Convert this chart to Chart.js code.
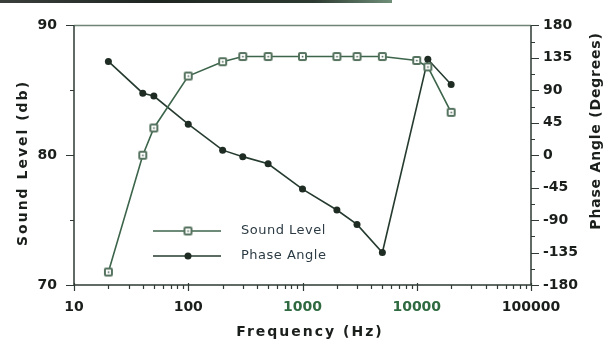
<!DOCTYPE html>
<html>
<head>
<meta charset="utf-8">
<script src="https://cdn.jsdelivr.net/npm/chart.js@4/dist/chart.umd.min.js"></script>
<style>
  html, body { margin: 0; padding: 0; background: #ffffff; }
  #wrap { position: relative; width: 604px; height: 343px; overflow: hidden; }
  #topband { position: absolute; left: 0; top: 0; width: 392px; height: 3px;
             background: linear-gradient(90deg, #3a3f3c 0%, #1f2622 40%, #2c3a31 80%, #6f8f78 100%); }
  canvas { position: absolute; left: 0; top: 0; }
</style>
</head>
<body>
<div id="wrap">
  <canvas id="c" width="604" height="343"></canvas>
  <div id="topband"></div>
</div>
<script>
// Frequency response of the speaker: level and phase versus frequency
const soundFreq  = [20, 40, 50, 100, 200, 300, 500, 1000, 2000, 3000, 5000, 10000, 12500, 20000];
const soundLevel = [71.0, 80.0, 82.1, 86.1, 87.2, 87.6, 87.6, 87.6, 87.6, 87.6, 87.6, 87.3, 86.8, 83.3];

const phaseFreq  = [20, 40, 50, 100, 200, 300, 500, 1000, 2000, 3000, 5000, 12500, 20000];
const phaseAngle = [130, 86, 82, 43, 7, -2, -12, -47, -76, -96, -135, 133, 98];

const freqTicks  = [10, 100, 1000, 10000, 100000];
const levelTicks = [70, 80, 90];
const phaseTicks = [-180, -135, -90, -45, 0, 45, 90, 135, 180];

const seriesNames = ['Sound Level', 'Phase Angle'];
const axisTitles = { x: 'Frequency (Hz)', y: 'Sound Level (db)', y2: 'Phase Angle (Degrees)' };

const LINE_SOUND = '#3d654b';
const LINE_PHASE = '#263b2f';
const AXIS = '#2e3a33';
const TEXT = '#1b1f1c';
const TICK_FONT = { family: 'DejaVu Sans', size: 14, weight: 'bold' };

// open square marker with a dot in the middle
function squareMarker() {
  const s = 11, m = document.createElement('canvas');
  m.width = s; m.height = s;
  const g = m.getContext('2d');
  g.fillStyle = '#56735f';
  g.beginPath(); g.roundRect(1, 1, 9, 9, 2); g.fill();
  g.fillStyle = '#ffffff';
  g.fillRect(3, 3, 5, 5);
  g.fillStyle = '#4a6553';
  g.fillRect(4.8, 4.8, 1.6, 1.6);
  return m;
}
const sqMark = squareMarker();

const soundPts = soundFreq.map((f, i) => ({ x: f, y: soundLevel[i] }));
const phasePts = phaseFreq.map((f, i) => ({ x: f, y: phaseAngle[i] }));

// tick marks, frame, titles and the inset legend
const decor = {
  id: 'decor',
  beforeDatasetsDraw(chart) {
    const { ctx, chartArea: a, scales } = chart;
    ctx.save();
    ctx.lineWidth = 1.5;
    // top edge is a lighter rule, the three axes are dark
    ctx.strokeStyle = '#6f8576';
    ctx.beginPath(); ctx.moveTo(a.left, a.top); ctx.lineTo(a.right, a.top); ctx.stroke();
    ctx.strokeStyle = AXIS;
    ctx.beginPath();
    ctx.moveTo(a.left, a.top); ctx.lineTo(a.left, a.bottom); ctx.lineTo(a.right, a.bottom); ctx.lineTo(a.right, a.top);
    ctx.stroke();
    ctx.lineWidth = 1.2;
    ctx.beginPath();
    // frequency axis: decade ticks and 2..9 sub-ticks
    const xs = scales.x;
    for (let d = 10; d < 100000; d *= 10) {
      for (let k = 2; k <= 9; k++) {
        const px = Math.round(xs.getPixelForValue(d * k)) + 0.5;
        ctx.moveTo(px, a.bottom); ctx.lineTo(px, a.bottom + 4);
      }
    }
    freqTicks.forEach(v => {
      const px = Math.round(xs.getPixelForValue(v)) + 0.5;
      ctx.moveTo(px, a.bottom - 2); ctx.lineTo(px, a.bottom + 6);
    });
    // level axis
    const yl = scales.y;
    levelTicks.forEach(v => {
      const py = Math.round(yl.getPixelForValue(v)) + 0.5;
      ctx.moveTo(a.left - 8, py); ctx.lineTo(a.left, py);
    });
    [75, 85].forEach(v => {
      const py = Math.round(yl.getPixelForValue(v)) + 0.5;
      ctx.moveTo(a.left - 4, py); ctx.lineTo(a.left, py);
    });
    // phase axis
    const yr = scales.y2;
    phaseTicks.forEach(v => {
      const py = Math.round(yr.getPixelForValue(v)) + 0.5;
      ctx.moveTo(a.right, py); ctx.lineTo(a.right + 8, py);
      if (v < 180) {
        const pm = Math.round(yr.getPixelForValue(v + 22.5)) + 0.5;
        ctx.moveTo(a.right, pm); ctx.lineTo(a.right + 4, pm);
      }
    });
    ctx.stroke();

    // axis titles
    ctx.fillStyle = TEXT;
    ctx.font = 'bold 14px "DejaVu Sans"';
    ctx.textAlign = 'center';
    ctx.textBaseline = 'middle';
    ctx.letterSpacing = '2px';
    ctx.fillText(axisTitles.x, 310, 332);
    ctx.save();
    ctx.translate(23, 163);
    ctx.rotate(-Math.PI / 2);
    ctx.fillText(axisTitles.y, 0, 0);
    ctx.restore();
    ctx.letterSpacing = '0.8px';
    ctx.save();
    ctx.translate(596, 131);
    ctx.rotate(-Math.PI / 2);
    ctx.fillText(axisTitles.y2, 0, 0);
    ctx.restore();
    ctx.letterSpacing = '0px';
    ctx.restore();
  },
  afterDatasetsDraw(chart) {
    const { ctx } = chart;
    ctx.save();
    const rows = [
      { y: 231, color: LINE_SOUND, name: seriesNames[0], sq: true },
      { y: 256, color: LINE_PHASE, name: seriesNames[1], sq: false }
    ];
    rows.forEach(r => {
      ctx.strokeStyle = r.color;
      ctx.lineWidth = 1.5;
      ctx.beginPath(); ctx.moveTo(153, r.y); ctx.lineTo(221, r.y); ctx.stroke();
      if (r.sq) {
        ctx.drawImage(sqMark, 188 - 5.5, r.y - 5.5);
      } else {
        ctx.fillStyle = '#1e2c24';
        ctx.beginPath(); ctx.arc(188, r.y, 3.5, 0, Math.PI * 2); ctx.fill();
      }
      ctx.fillStyle = '#2c3b44';
      ctx.font = '13px "DejaVu Sans"';
      ctx.textAlign = 'left';
      ctx.textBaseline = 'middle';
      ctx.letterSpacing = '0.5px';
      ctx.fillText(r.name, 241, r.y);
    });
    ctx.restore();
  }
};

new Chart(document.getElementById('c'), {
  type: 'line',
  data: {
    datasets: [
      {
        label: seriesNames[0],
        data: soundPts,
        yAxisID: 'y',
        borderColor: LINE_SOUND,
        borderWidth: 1.6,
        pointStyle: sqMark,
        pointRadius: 5,
        tension: 0
      },
      {
        label: seriesNames[1],
        data: phasePts,
        yAxisID: 'y2',
        borderColor: LINE_PHASE,
        backgroundColor: '#1e2c24',
        borderWidth: 1.6,
        pointStyle: 'circle',
        pointRadius: 3.5,
        pointBorderWidth: 0,
        tension: 0
      }
    ]
  },
  options: {
    responsive: false,
    animation: false,
    devicePixelRatio: 1,
    layout: { padding: { top: 22, left: 0, right: 0, bottom: 0 } },
    plugins: { legend: { display: false }, tooltip: { enabled: false } },
    scales: {
      x: {
        type: 'logarithmic',
        min: 10, max: 100000,
        position: 'bottom',
        afterBuildTicks: s => { s.ticks = freqTicks.map(v => ({ value: v })); },
        afterFit: s => { s.height = 58; },
        grid: { display: false, drawTicks: false },
        border: { display: false },
        ticks: {
          autoSkip: false, maxRotation: 0, padding: 14,
          font: TICK_FONT,
          color: c => (c.tick && (c.tick.value === 1000 || c.tick.value === 10000)) ? '#2f6a40' : TEXT,
          callback: v => String(v)
        }
      },
      y: {
        type: 'linear',
        position: 'left',
        min: 70, max: 90,
        afterBuildTicks: s => { s.ticks = levelTicks.map(v => ({ value: v })); },
        afterFit: s => { s.width = 74; },
        grid: { display: false, drawTicks: false },
        border: { display: false },
        ticks: { padding: 17, font: TICK_FONT, color: TEXT, callback: v => String(v) }
      },
      y2: {
        type: 'linear',
        position: 'right',
        min: -180, max: 180,
        afterBuildTicks: s => { s.ticks = phaseTicks.map(v => ({ value: v })); },
        afterFit: s => { s.width = 73; },
        grid: { display: false, drawTicks: false },
        border: { display: false },
        ticks: { padding: 12, font: TICK_FONT, color: TEXT, callback: v => String(v) }
      }
    }
  },
  plugins: [decor]
});
</script>
</body>
</html>
